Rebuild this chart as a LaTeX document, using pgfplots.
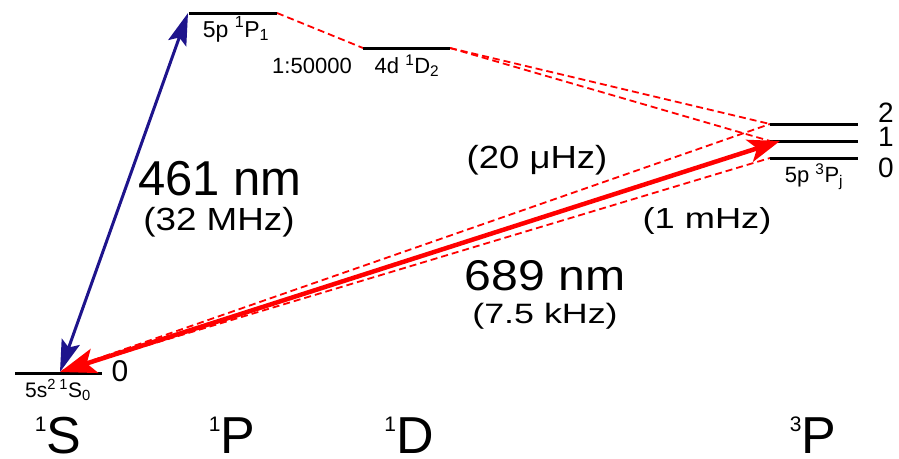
\documentclass[border=0pt]{standalone}
\usepackage{pgfplots}
\pgfplotsset{compat=1.18}
\usepackage{fontspec}
\setmainfont{Liberation Sans}
\usetikzlibrary{arrows.meta}
\definecolor{navy}{RGB}{30,20,140}
\newcommand{\fs}[1]{\fontsize{#1}{#1}\selectfont}
\newcommand{\termlbl}[2]{{\fs{52}\raisebox{22pt}{\fs{21}#1}#2}}
\begin{document}
\begin{tikzpicture}[every node/.style={inner sep=0pt}]
\begin{axis}[scale only axis, width=899pt, height=458pt,
  xmin=0, xmax=899, ymin=0, ymax=458, y dir=reverse,
  hide axis, clip=false]
% dashed connections
\addplot[red, line width=1.8pt, dash pattern=on 7pt off 4pt] coordinates {(277,13) (363,48)};
\addplot[red, line width=1.8pt, dash pattern=on 7pt off 4pt] coordinates {(450,48) (770,124)};
\addplot[red, line width=1.8pt, dash pattern=on 7pt off 4pt] coordinates {(450,48) (770,141)};
\addplot[red, line width=1.8pt, dash pattern=on 7pt off 4pt] coordinates {(62,371) (770,124)};
\addplot[red, line width=1.8pt, dash pattern=on 7pt off 4pt] coordinates {(62,371) (770,158)};
% levels
\addplot[black, line width=3pt] coordinates {(15,373) (102,373)};
\addplot[black, line width=3pt] coordinates {(189,13) (277,13)};
\addplot[black, line width=3pt] coordinates {(363,48) (450,48)};
\addplot[black, line width=3pt] coordinates {(770,124) (858,124)};
\addplot[black, line width=3pt] coordinates {(770,141) (858,141)};
\addplot[black, line width=3pt] coordinates {(770,158) (858,158)};
% transitions
\addplot[navy, line width=3pt, {Stealth[length=32pt,width=19pt,inset=6pt]}-{Stealth[length=32pt,width=19pt,inset=6pt]}] coordinates {(60,372) (188,13)};
\addplot[red, line width=4.5pt, {Stealth[length=36pt,width=25pt,inset=8pt]}-{Stealth[length=32pt,width=23pt,inset=8pt]}] coordinates {(60,372) (780,141)};
% labels
\node[anchor=base, inner sep=0pt] at (axis cs:220,195) {\fs{49}461 nm};
\node[anchor=base, inner sep=0pt] at (axis cs:219,230) {\fs{32}\scalebox{1.15}[1]{(32 MHz)}};
\node[anchor=base, inner sep=0pt] at (axis cs:537,168) {\fs{32}\scalebox{1.14}[1]{(20 μHz)}};
\node[anchor=base, inner sep=0pt] at (axis cs:707,228) {\fs{29}\scalebox{1.25}[1]{(1 mHz)}};
\node[anchor=base, inner sep=0pt] at (axis cs:545,290) {\fs{43}\scalebox{1.12}[1]{689 nm}};
\node[anchor=base, inner sep=0pt] at (axis cs:545,323) {\fs{28}\scalebox{1.28}[1]{(7.5 kHz)}};
\node[anchor=base, inner sep=0pt] at (axis cs:58,453) {\termlbl{1}{S}};
\node[anchor=base, inner sep=0pt] at (axis cs:232,453) {\termlbl{1}{P}};
\node[anchor=base, inner sep=0pt] at (axis cs:409,453) {\termlbl{1}{D}};
\node[anchor=base, inner sep=0pt] at (axis cs:813,453) {\termlbl{3}{P}};
\node[anchor=base, inner sep=0pt] at (axis cs:120,381) {\fs{30}0};
\node[anchor=base, inner sep=0pt] at (axis cs:886,122) {\fs{28}2};
\node[anchor=base, inner sep=0pt] at (axis cs:886,146) {\fs{28}1};
\node[anchor=base, inner sep=0pt] at (axis cs:886,177) {\fs{28}0};
\node[anchor=base, inner sep=0pt] at (axis cs:58,397) {\fs{21}5s\textsuperscript{2}\,\textsuperscript{1}S\textsubscript{0}};
\node[anchor=base, inner sep=0pt] at (axis cs:236,37) {\fs{23}5p \textsuperscript{1}P\textsubscript{1}};
\node[anchor=base, inner sep=0pt] at (axis cs:312,73) {\fs{22}1:50000};
\node[anchor=base, inner sep=0pt] at (axis cs:407,73) {\fs{22}4d \textsuperscript{1}D\textsubscript{2}};
\node[anchor=base, inner sep=0pt] at (axis cs:814,182) {\fs{22}5p \textsuperscript{3}P\textsubscript{j}};
\end{axis}
\path (current axis.south west) rectangle (current axis.north east);
\end{tikzpicture}
\end{document}
